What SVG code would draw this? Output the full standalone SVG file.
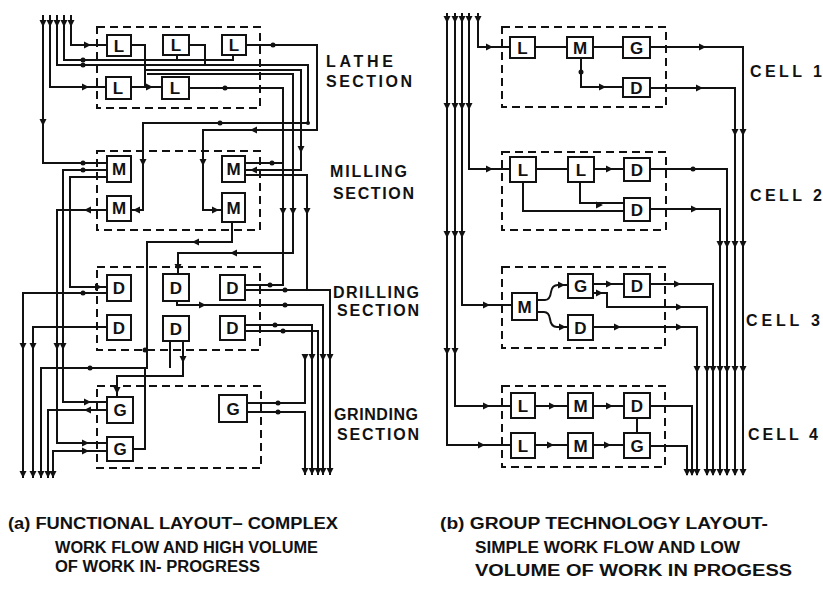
<svg xmlns="http://www.w3.org/2000/svg" xmlns:xlink="http://www.w3.org/1999/xlink" width="823" height="591" viewBox="0 0 823 591">
<style>
.ln{fill:none;stroke:#111;stroke-width:2}
.bx{fill:#fff;stroke:#111;stroke-width:2}
.ds{fill:none;stroke:#111;stroke-width:2;stroke-dasharray:8 5}
.lb{font-family:"Liberation Sans",Arial,sans-serif;font-weight:bold;font-size:17px;text-anchor:middle;fill:#111}
.sec{font-family:"Liberation Sans",Arial,sans-serif;font-weight:bold;font-size:16px;fill:#111}
.cap{font-family:"Liberation Sans",Arial,sans-serif;font-weight:bold;font-size:16px;fill:#111}
.dot{fill:#111}
</style>
<defs>
<path id="ar" d="M-4,-3.5 L3,0 L-4,3.5 z" fill="#111"/>
</defs>
<rect width="823" height="591" fill="#fff"/>

<g id="connectors">
<!-- left diagram -->
<path class="ln" d="M43,15 V163 H107"/>
<path class="ln" d="M50,15 V87 H106"/>
<path class="ln" d="M57,15 V65 H308 V123 H143 V210 H131"/>
<path class="ln" d="M64,15 V60 H233 V55"/>
<path class="ln" d="M71,15 V45 H107"/>
<path class="ln" d="M131,45 H145 V87 H162"/>
<path class="ln" d="M131,87 H145"/>
<path class="ln" d="M145,70 H301 V170 H245"/>
<path class="ln" d="M147,74 H293 V253 H178 V274"/>
<path class="ln" d="M189,45 H205 V65"/>
<path class="ln" d="M177,55 V60"/>
<path class="ln" d="M246,45 H317 V130 H203 V210 H222"/>
<path class="ln" d="M189,88 H283 V285 H245"/>
<path class="ln" d="M107,170 H63 V402 H107"/>
<path class="ln" d="M107,177 H70 V287 H107"/>
<path class="ln" d="M107,210 H57 V443 H107"/>
<path class="ln" d="M53,478 V451 H107"/>
<path class="ln" d="M245,163 H283"/>
<path class="ln" d="M245,175 H307 V290 H330 V475"/>
<path class="ln" d="M232,222 V242 H147 V368 H41 V478"/>
<path class="ln" d="M145,368 V449 H133"/>
<path class="ln" d="M107,293 H23 V478"/>
<path class="ln" d="M107,327 H33 V478"/>
<path class="ln" d="M177,301 V305 H323 V475"/>
<path class="ln" d="M245,290 H307"/>
<path class="ln" d="M170,341 V368"/>
<path class="ln" d="M183,341 V376 H117 V397"/>
<path class="ln" d="M107,410 H48 V478"/>
<path class="ln" d="M245,325 H312 V475"/>
<path class="ln" d="M245,331 H318 V475"/>
<path class="ln" d="M247,403 H305 V358"/>
<path class="ln" d="M247,412 H305 V475"/>

<!-- right diagram inputs -->
<path class="ln" d="M478,13 V47 H510"/>
<path class="ln" d="M469,13 V169 H510"/>
<path class="ln" d="M462,13 V305 H512"/>
<path class="ln" d="M455,13 V406 H511"/>
<path class="ln" d="M447,13 V445 H511"/>
<!-- cell 1 -->
<path class="ln" d="M535,47 H567 M593,47 H623"/>
<path class="ln" d="M581,58 V87 H623"/>
<path class="ln" d="M650,47 H743 V475"/>
<path class="ln" d="M650,88 H735 V475"/>
<!-- cell 2 -->
<path class="ln" d="M536,169 H568 M594,169 H624"/>
<path class="ln" d="M523,182 V211 H624"/>
<path class="ln" d="M580,182 V203 H624"/>
<path class="ln" d="M650,169 H727 V475"/>
<path class="ln" d="M650,209 H720 V475"/>
<!-- cell 3 -->
<path class="ln" d="M537,300 H545 Q550,300 551,292 Q552,285 558,285 H568"/>
<path class="ln" d="M537,312 H544 Q549,312 550,319 Q551,327 557,327 H568"/>
<path class="ln" d="M593,284 H624"/>
<path class="ln" d="M593,293 H607 V307 H707 V475"/>
<path class="ln" d="M650,284 H713 V475"/>
<path class="ln" d="M593,327 H697 V475"/>
<!-- cell 4 -->
<path class="ln" d="M535,406 H568 M593,406 H624"/>
<path class="ln" d="M535,445 H568 M593,445 H624"/>
<path class="ln" d="M637,418 V433"/>
<path class="ln" d="M650,406 H692 V475"/>
<path class="ln" d="M650,446 H687 V475"/>

<!-- dots -->
<g class="dot">
<circle cx="83" cy="163" r="2.5"/><circle cx="83" cy="65" r="2.5"/><circle cx="83" cy="60" r="2.5"/>
<circle cx="225" cy="88" r="2.5"/><circle cx="273" cy="45" r="2.5"/><circle cx="220" cy="123" r="2.5"/>
<circle cx="270" cy="285" r="2.5"/><circle cx="272" cy="163" r="2.5"/><circle cx="285" cy="290" r="2.5"/>
<circle cx="285" cy="305" r="2.5"/><circle cx="275" cy="325" r="2.5"/><circle cx="283" cy="331" r="2.5"/>
<circle cx="278" cy="403" r="2.5"/><circle cx="278" cy="412" r="2.5"/><circle cx="90" cy="368" r="2.5"/>
<circle cx="83" cy="293" r="2.5"/><circle cx="83" cy="170" r="2.5"/><circle cx="145" cy="350" r="2.5"/>
<circle cx="581" cy="72" r="2.5"/><circle cx="693" cy="169" r="2.5"/><circle cx="308" cy="123" r="2"/>
</g>
<!-- arrowheads -->
<use xlink:href="#ar" transform="translate(43,123) rotate(90)"/>
<use xlink:href="#ar" transform="translate(86,87)"/>
<use xlink:href="#ar" transform="translate(88,45)"/>
<use xlink:href="#ar" transform="translate(150,87)"/>
<use xlink:href="#ar" transform="translate(136,210) rotate(180)"/>
<use xlink:href="#ar" transform="translate(143,163) rotate(90)"/>
<use xlink:href="#ar" transform="translate(253,170) rotate(180)"/>
<use xlink:href="#ar" transform="translate(233,253) rotate(180)"/>
<use xlink:href="#ar" transform="translate(178,268) rotate(90)"/>
<use xlink:href="#ar" transform="translate(253,130) rotate(180)"/>
<use xlink:href="#ar" transform="translate(203,163) rotate(90)"/>
<use xlink:href="#ar" transform="translate(216,210)"/>
<use xlink:href="#ar" transform="translate(283,212) rotate(90)"/>
<use xlink:href="#ar" transform="translate(293,212) rotate(90)"/>
<use xlink:href="#ar" transform="translate(301,150) rotate(90)"/>
<use xlink:href="#ar" transform="translate(307,212) rotate(90)"/>
<use xlink:href="#ar" transform="translate(88,402)"/>
<use xlink:href="#ar" transform="translate(99,287)"/>
<use xlink:href="#ar" transform="translate(87,210) rotate(180)"/>
<use xlink:href="#ar" transform="translate(86,443)"/>
<use xlink:href="#ar" transform="translate(86,451)"/>
<use xlink:href="#ar" transform="translate(195,242) rotate(180)"/>
<use xlink:href="#ar" transform="translate(203,305)"/>
<use xlink:href="#ar" transform="translate(183,360) rotate(90)"/>
<use xlink:href="#ar" transform="translate(117,391) rotate(90)"/>
<use xlink:href="#ar" transform="translate(87,410) rotate(180)"/>
<use xlink:href="#ar" transform="translate(23,347) rotate(90)"/>
<use xlink:href="#ar" transform="translate(33,347) rotate(90)"/>
<use xlink:href="#ar" transform="translate(57,347) rotate(90)"/>
<use xlink:href="#ar" transform="translate(63,347) rotate(90)"/>
<use xlink:href="#ar" transform="translate(23,475) rotate(90)"/>
<use xlink:href="#ar" transform="translate(33,475) rotate(90)"/>
<use xlink:href="#ar" transform="translate(41,475) rotate(90)"/>
<use xlink:href="#ar" transform="translate(48,475) rotate(90)"/>
<use xlink:href="#ar" transform="translate(53,475) rotate(90)"/>
<use xlink:href="#ar" transform="translate(305,358) rotate(90)"/>
<use xlink:href="#ar" transform="translate(312,358) rotate(90)"/>
<use xlink:href="#ar" transform="translate(323,358) rotate(90)"/>
<use xlink:href="#ar" transform="translate(330,358) rotate(90)"/>
<use xlink:href="#ar" transform="translate(305,472) rotate(90)"/>
<use xlink:href="#ar" transform="translate(312,472) rotate(90)"/>
<use xlink:href="#ar" transform="translate(318,472) rotate(90)"/>
<use xlink:href="#ar" transform="translate(323,472) rotate(90)"/>
<use xlink:href="#ar" transform="translate(330,472) rotate(90)"/>
<use xlink:href="#ar" transform="translate(43,24) rotate(90)"/>
<use xlink:href="#ar" transform="translate(50,24) rotate(90)"/>
<use xlink:href="#ar" transform="translate(57,24) rotate(90)"/>
<use xlink:href="#ar" transform="translate(64,24) rotate(90)"/>
<use xlink:href="#ar" transform="translate(71,24) rotate(90)"/>
<!-- right arrowheads -->
<use xlink:href="#ar" transform="translate(447,20) rotate(90)"/>
<use xlink:href="#ar" transform="translate(455,20) rotate(90)"/>
<use xlink:href="#ar" transform="translate(462,20) rotate(90)"/>
<use xlink:href="#ar" transform="translate(469,20) rotate(90)"/>
<use xlink:href="#ar" transform="translate(478,20) rotate(90)"/>
<use xlink:href="#ar" transform="translate(447,107) rotate(90)"/>
<use xlink:href="#ar" transform="translate(455,107) rotate(90)"/>
<use xlink:href="#ar" transform="translate(462,107) rotate(90)"/>
<use xlink:href="#ar" transform="translate(469,107) rotate(90)"/>
<use xlink:href="#ar" transform="translate(447,235) rotate(90)"/>
<use xlink:href="#ar" transform="translate(455,235) rotate(90)"/>
<use xlink:href="#ar" transform="translate(462,235) rotate(90)"/>
<use xlink:href="#ar" transform="translate(447,352) rotate(90)"/>
<use xlink:href="#ar" transform="translate(455,352) rotate(90)"/>
<use xlink:href="#ar" transform="translate(490,47)"/>
<use xlink:href="#ar" transform="translate(490,169)"/>
<use xlink:href="#ar" transform="translate(487,305)"/>
<use xlink:href="#ar" transform="translate(487,406)"/>
<use xlink:href="#ar" transform="translate(482,445)"/>
<use xlink:href="#ar" transform="translate(603,87)"/>
<use xlink:href="#ar" transform="translate(703,47)"/>
<use xlink:href="#ar" transform="translate(700,88)"/>
<use xlink:href="#ar" transform="translate(610,169)"/>
<use xlink:href="#ar" transform="translate(600,205)"/>
<use xlink:href="#ar" transform="translate(695,209)"/>
<use xlink:href="#ar" transform="translate(562,285)"/>
<use xlink:href="#ar" transform="translate(563,327)"/>
<use xlink:href="#ar" transform="translate(610,284)"/>
<use xlink:href="#ar" transform="translate(600,293)"/>
<use xlink:href="#ar" transform="translate(680,307)"/>
<use xlink:href="#ar" transform="translate(678,284)"/>
<use xlink:href="#ar" transform="translate(618,327)"/>
<use xlink:href="#ar" transform="translate(680,327)"/>
<use xlink:href="#ar" transform="translate(553,406)"/>
<use xlink:href="#ar" transform="translate(610,406)"/>
<use xlink:href="#ar" transform="translate(551,445)"/>
<use xlink:href="#ar" transform="translate(608,445)"/>
<use xlink:href="#ar" transform="translate(735,133) rotate(90)"/>
<use xlink:href="#ar" transform="translate(743,133) rotate(90)"/>
<use xlink:href="#ar" transform="translate(720,245) rotate(90)"/>
<use xlink:href="#ar" transform="translate(727,245) rotate(90)"/>
<use xlink:href="#ar" transform="translate(735,245) rotate(90)"/>
<use xlink:href="#ar" transform="translate(743,245) rotate(90)"/>
<use xlink:href="#ar" transform="translate(697,370) rotate(90)"/>
<use xlink:href="#ar" transform="translate(707,370) rotate(90)"/>
<use xlink:href="#ar" transform="translate(713,370) rotate(90)"/>
<use xlink:href="#ar" transform="translate(720,370) rotate(90)"/>
<use xlink:href="#ar" transform="translate(727,370) rotate(90)"/>
<use xlink:href="#ar" transform="translate(735,370) rotate(90)"/>
<use xlink:href="#ar" transform="translate(743,370) rotate(90)"/>
<use xlink:href="#ar" transform="translate(687,473) rotate(90)"/>
<use xlink:href="#ar" transform="translate(692,473) rotate(90)"/>
<use xlink:href="#ar" transform="translate(697,473) rotate(90)"/>
<use xlink:href="#ar" transform="translate(707,473) rotate(90)"/>
<use xlink:href="#ar" transform="translate(713,473) rotate(90)"/>
<use xlink:href="#ar" transform="translate(720,473) rotate(90)"/>
<use xlink:href="#ar" transform="translate(727,473) rotate(90)"/>
<use xlink:href="#ar" transform="translate(735,473) rotate(90)"/>
<use xlink:href="#ar" transform="translate(743,473) rotate(90)"/>
</g>

<!-- section frames -->
<g id="lathe-section"><rect class="ds" x="97" y="27" width="163" height="81"/><text class="sec" x="326" y="67" textLength="67" lengthAdjust="spacing">LATHE</text><text class="sec" x="326" y="87" textLength="86" lengthAdjust="spacing">SECTION</text></g>
<g id="milling-section"><rect class="ds" x="97" y="151" width="163" height="79"/><text class="sec" x="330" y="177" textLength="77" lengthAdjust="spacing">MILLING</text><text class="sec" x="333" y="199" textLength="81" lengthAdjust="spacing">SECTION</text></g>
<g id="drilling-section"><rect class="ds" x="97" y="267" width="163" height="83"/><text class="sec" x="333" y="298" textLength="86" lengthAdjust="spacing">DRILLING</text><text class="sec" x="337" y="316" textLength="82" lengthAdjust="spacing">SECTION</text></g>
<g id="grinding-section"><rect class="ds" x="97" y="386" width="164" height="82"/><text class="sec" x="334" y="420" textLength="84" lengthAdjust="spacing">GRINDING</text><text class="sec" x="337" y="440" textLength="82" lengthAdjust="spacing">SECTION</text></g>
<g id="cell1"><rect class="ds" x="502" y="27" width="164" height="80"/><text class="sec" x="750" y="77" textLength="72" lengthAdjust="spacing">CELL 1</text></g>
<g id="cell2"><rect class="ds" x="502" y="152" width="164" height="78"/><text class="sec" x="750" y="201" textLength="72" lengthAdjust="spacing">CELL 2</text></g>
<g id="cell3"><rect class="ds" x="502" y="267" width="163" height="81"/><text class="sec" x="746" y="326" textLength="74" lengthAdjust="spacing">CELL 3</text></g>
<g id="cell4"><rect class="ds" x="502" y="386" width="163" height="81"/><text class="sec" x="748" y="440" textLength="70" lengthAdjust="spacing">CELL 4</text></g>

<!-- left nodes -->
<g id="L1"><rect class="bx" x="107" y="35" width="24" height="21"/><text class="lb" x="119" y="52">L</text></g>
<g id="L2"><rect class="bx" x="163" y="35" width="26" height="20"/><text class="lb" x="176" y="51">L</text></g>
<g id="L3"><rect class="bx" x="222" y="35" width="24" height="20"/><text class="lb" x="234" y="51">L</text></g>
<g id="L4"><rect class="bx" x="106" y="77" width="25" height="22"/><text class="lb" x="118" y="94">L</text></g>
<g id="L5"><rect class="bx" x="162" y="77" width="27" height="22"/><text class="lb" x="175" y="94">L</text></g>
<g id="M1"><rect class="bx" x="107" y="156" width="24" height="26"/><text class="lb" x="119" y="175">M</text></g>
<g id="M2"><rect class="bx" x="107" y="196" width="24" height="25"/><text class="lb" x="119" y="214">M</text></g>
<g id="M3"><rect class="bx" x="222" y="156" width="23" height="26"/><text class="lb" x="233.5" y="175">M</text></g>
<g id="M4"><rect class="bx" x="222" y="193" width="23" height="29"/><text class="lb" x="233.5" y="214">M</text></g>
<g id="D1"><rect class="bx" x="107" y="275" width="24" height="26"/><text class="lb" x="119" y="294">D</text></g>
<g id="D2"><rect class="bx" x="163" y="274" width="26" height="27"/><text class="lb" x="176" y="294">D</text></g>
<g id="D3"><rect class="bx" x="220" y="275" width="25" height="25"/><text class="lb" x="232.5" y="294">D</text></g>
<g id="D4"><rect class="bx" x="107" y="315" width="24" height="25"/><text class="lb" x="119" y="334">D</text></g>
<g id="D5"><rect class="bx" x="163" y="316" width="26" height="25"/><text class="lb" x="176" y="335">D</text></g>
<g id="D6"><rect class="bx" x="220" y="316" width="25" height="24"/><text class="lb" x="232.5" y="334">D</text></g>
<g id="G1"><rect class="bx" x="107" y="397" width="26" height="26"/><text class="lb" x="120" y="416">G</text></g>
<g id="G2"><rect class="bx" x="107" y="437" width="26" height="24"/><text class="lb" x="120" y="455">G</text></g>
<g id="G3"><rect class="bx" x="219" y="395" width="28" height="27"/><text class="lb" x="233" y="415">G</text></g>

<!-- right nodes -->
<g id="c1L"><rect class="bx" x="510" y="37" width="25" height="21"/><text class="lb" x="522.5" y="54">L</text></g>
<g id="c1M"><rect class="bx" x="567" y="37" width="26" height="21"/><text class="lb" x="580" y="54">M</text></g>
<g id="c1G"><rect class="bx" x="623" y="37" width="27" height="21"/><text class="lb" x="636.5" y="54">G</text></g>
<g id="c1D"><rect class="bx" x="623" y="78" width="27" height="19"/><text class="lb" x="636.5" y="94">D</text></g>
<g id="c2L1"><rect class="bx" x="510" y="157" width="26" height="25"/><text class="lb" x="523" y="176">L</text></g>
<g id="c2L2"><rect class="bx" x="568" y="157" width="26" height="25"/><text class="lb" x="581" y="176">L</text></g>
<g id="c2D1"><rect class="bx" x="624" y="158" width="26" height="23"/><text class="lb" x="637" y="176">D</text></g>
<g id="c2D2"><rect class="bx" x="624" y="198" width="26" height="23"/><text class="lb" x="637" y="216">D</text></g>
<g id="c3M"><rect class="bx" x="512" y="293" width="25" height="27"/><text class="lb" x="524.5" y="313">M</text></g>
<g id="c3G"><rect class="bx" x="568" y="274" width="25" height="24"/><text class="lb" x="580.5" y="292">G</text></g>
<g id="c3D1"><rect class="bx" x="624" y="274" width="26" height="23"/><text class="lb" x="637" y="292">D</text></g>
<g id="c3D2"><rect class="bx" x="568" y="315" width="25" height="25"/><text class="lb" x="580.5" y="334">D</text></g>
<g id="c4L1"><rect class="bx" x="511" y="393" width="24" height="25"/><text class="lb" x="523" y="412">L</text></g>
<g id="c4M1"><rect class="bx" x="568" y="393" width="25" height="25"/><text class="lb" x="580.5" y="412">M</text></g>
<g id="c4D"><rect class="bx" x="624" y="393" width="26" height="25"/><text class="lb" x="637" y="412">D</text></g>
<g id="c4L2"><rect class="bx" x="511" y="433" width="24" height="25"/><text class="lb" x="523" y="452">L</text></g>
<g id="c4M2"><rect class="bx" x="568" y="433" width="25" height="25"/><text class="lb" x="580.5" y="452">M</text></g>
<g id="c4G"><rect class="bx" x="624" y="433" width="26" height="25"/><text class="lb" x="637" y="452">G</text></g>

<!-- captions -->
<g id="caption-a">
<text class="cap" x="8" y="529" textLength="330" lengthAdjust="spacingAndGlyphs">(a) FUNCTIONAL LAYOUT– COMPLEX</text>
<text class="cap" x="55" y="553" textLength="263" lengthAdjust="spacingAndGlyphs">WORK FLOW AND HIGH VOLUME</text>
<text class="cap" x="55" y="572" textLength="205" lengthAdjust="spacingAndGlyphs">OF WORK IN- PROGRESS</text>
</g>
<g id="caption-b">
<text class="cap" x="440" y="529" textLength="328" lengthAdjust="spacingAndGlyphs">(b) GROUP TECHNOLOGY LAYOUT-</text>
<text class="cap" x="475" y="553" textLength="265" lengthAdjust="spacingAndGlyphs">SIMPLE WORK FLOW AND LOW</text>
<text class="cap" x="475" y="576" textLength="317" lengthAdjust="spacingAndGlyphs">VOLUME OF WORK IN PROGESS</text>
</g>
</svg>
